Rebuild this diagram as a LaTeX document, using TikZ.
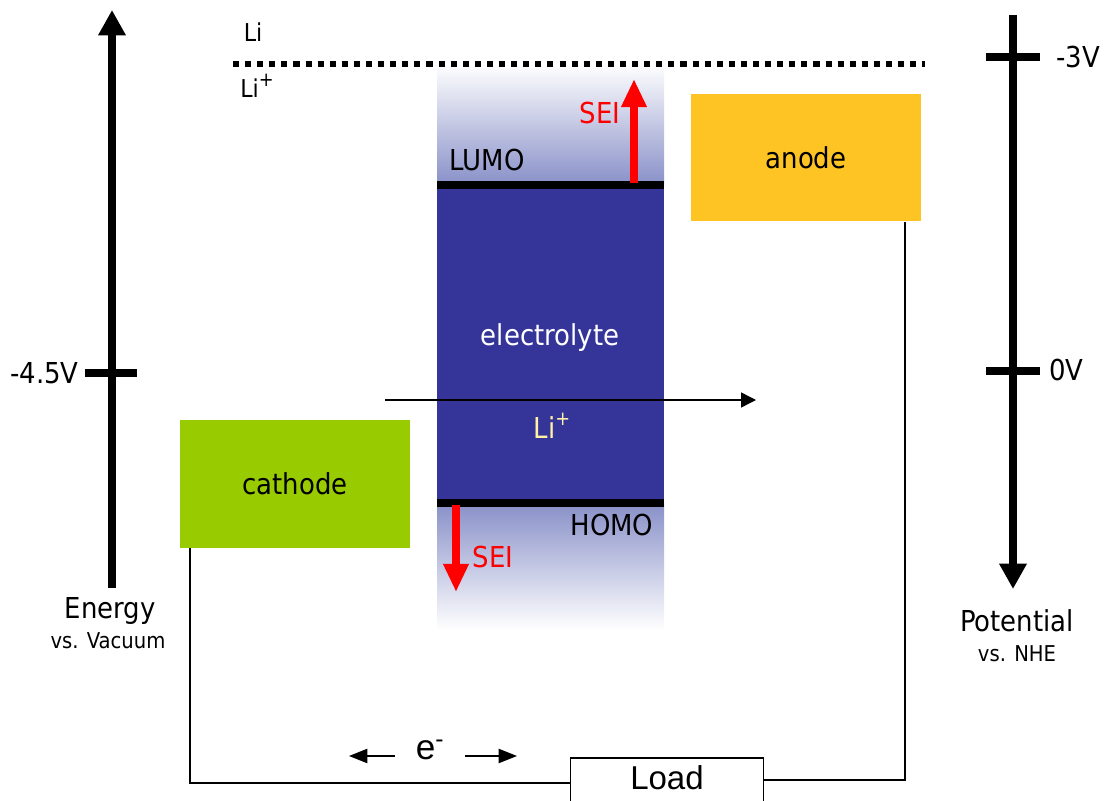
\documentclass[tikz,border=0pt]{standalone}
\usepackage{fontspec}
\setmainfont{DejaVu Sans Condensed}
\newfontfamily\arialfont{Liberation Sans}
\usetikzlibrary{arrows.meta}
\definecolor{bandblue}{HTML}{353599}
\definecolor{edgeblue}{HTML}{8890C8}
\definecolor{anodeyellow}{HTML}{FDC423}
\definecolor{cathodegreen}{HTML}{99CC00}
\definecolor{ionyellow}{HTML}{FFF2A8}
\definecolor{seired}{HTML}{FF0000}
\newcommand{\ionplus}{\raisebox{0.45em}{\fontsize{14}{14}\selectfont+}}

\begin{document}
\begin{tikzpicture}[x=0.025cm, y=-0.025cm,
        every node/.style={font=\fontsize{20.5}{24}\selectfont, inner sep=0pt},
        axis/.style={line width=5pt, -{Triangle[width=18.5pt, length=18pt]}},
        tick/.style={line width=5pt},
        small/.style={font=\fontsize{15.5}{18}\selectfont},
        electrode/.style={minimum width=163pt, minimum height=91pt},
        level/.style={line width=5pt},
        sei/.style={draw=seired, line width=5.5pt, -{Triangle[width=17pt, length=20pt]}},
        wire/.style={line width=1pt},
        thin/.style={line width=1pt, -{Triangle[width=10.5pt, length=10.5pt]}},
        flow/.style={line width=1.3pt, -{Triangle[width=10pt, length=13pt]}}]
        \useasboundingbox (0,0) rectangle (1104,801);

        % energy axis
        \coordinate (ebot) at (112,588);
        \coordinate (etop) at (112,10);
        \draw[axis] (ebot) -- (etop);
        \draw[tick] (85,373) -- (137,373);
        \node[anchor=east] (evac) at (79,373) {-4.5V};
        \node (energy) at (110,611) {Energy};
        \node[small] (vacuum) at (108,641) {vs. Vacuum};

        % potential axis
        \coordinate (ptop) at (1013,15);
        \coordinate (pbot) at (1013,589);
        \draw[axis] (ptop) -- (pbot);
        \draw[tick] (986,57) -- (1040,57);
        \draw[tick] (986,371) -- (1040,371);
        \node[anchor=west] (three) at (1056,57) {-3V};
        \node[anchor=west] (zero) at (1049,370) {0V};
        \node (potential) at (1017,621) {Potential};
        \node[small] (nhe) at (1017,654) {vs. NHE};

        % electrolyte window
        \shade[top color=white, bottom color=edgeblue] (437,64) rectangle (664,185);
        \shade[top color=edgeblue, bottom color=white] (437,503) rectangle (664,630);
        \fill[bandblue] (437,185) rectangle (664,503);
        \draw[level] (437,185) -- (664,185);
        \draw[level] (437,503) -- (664,503);
        \node[text=white] (elyte) at (550,338) {electrolyte};
        \node (lumo) at (487,160) {LUMO};
        \node (homo) at (612,525) {HOMO};

        % Li / Li+ level
        \draw[line width=4.3pt, dash pattern=on 4.3pt off 4.3pt] (233,64) -- (925,64);
        \node[font=\fontsize{17.5}{20}\selectfont] (li) at (253,32) {Li};
        \node[font=\fontsize{17.5}{20}\selectfont] (liplus) at (257,86) {Li\ionplus};

        % SEI arrows
        \draw[sei] (634,183) -- (634,79);
        \node[text=seired] (seiup) at (600,113) {SEI};
        \draw[sei] (456,505) -- (456,592);
        \node[text=seired] (seidown) at (493,557) {SEI};

        % electrodes
        \node[electrode, fill=anodeyellow] (anode) at (806,157.5) {anode};
        \node[electrode, fill=cathodegreen] (cathode) at (295,484) {cathode};

        % ion transport
        \coordinate (ionstart) at (385,400);
        \coordinate (ionend) at (756,400);
        \draw[thin] (ionstart) -- (ionend);
        \node[text=ionyellow] (ion) at (552,426) {Li\ionplus};

        % external circuit
        \node[draw, line width=1pt, minimum width=137pt, minimum height=50pt] (load) at (667,793) {};
        \node[font=\arialfont\fontsize{23.5}{28}\selectfont] (loadtext) at (667,778) {Load};
        \coordinate (cwire) at (190,548);
        \coordinate (cturn) at (190,783);
        \coordinate (awire) at (905,222);
        \coordinate (aturn) at (905,780);
        \draw[wire] (cwire) -- (cturn) -- (cturn -| load.west);
        \draw[wire] (aturn -| load.east) -- (aturn) -- (awire);
        \node[font=\arialfont\fontsize{25}{28}\selectfont] (elec) at (430,750) {e\textsuperscript{-}};
        \draw[flow] (395,756) -- (349,756);
        \draw[flow] (465,756) -- (517,756);
      \end{tikzpicture}
\end{document}
